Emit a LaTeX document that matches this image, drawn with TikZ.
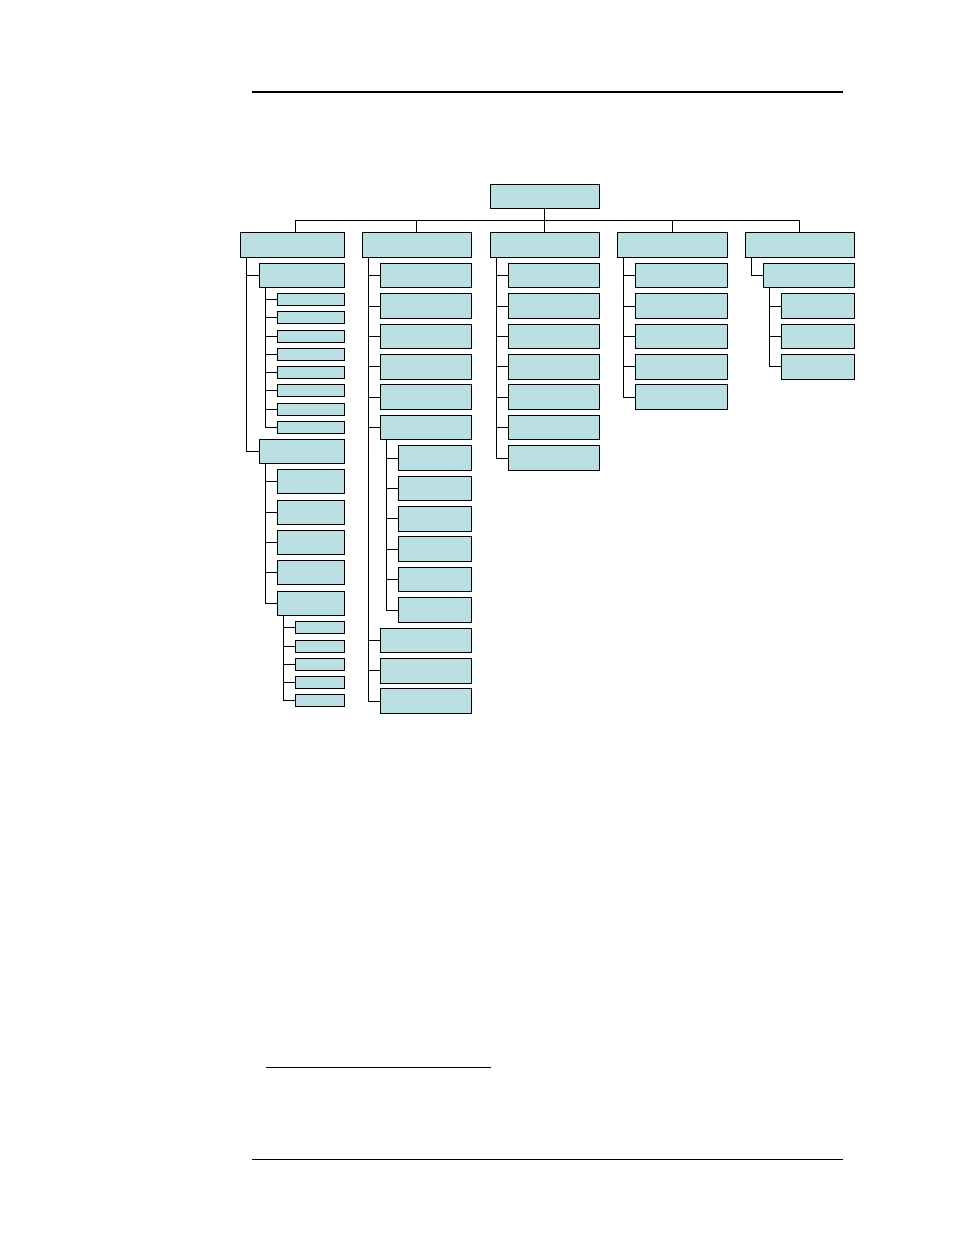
\documentclass[tikz,border=0pt]{standalone}
\definecolor{boxfill}{RGB}{187,224,227}
\tikzset{
  box/.style={draw=black,fill=boxfill,line width=0.9pt,inner sep=0pt,outer sep=0pt,rectangle},
  edge/.style={draw=black,line width=0.9pt},
  rulebar/.style={draw=black}
}
\newcommand\bx[5]{\node[box,anchor=north west,minimum width=#4pt,minimum height=#5pt] (#1) at (#2,#3) {};}
\newcommand\lnk[2]{\draw[edge] ([xshift=6pt]#1.south west) |- (#2.west);}
\begin{document}
\begin{tikzpicture}[x=1pt,y=-1pt]
\useasboundingbox (0,0) rectangle (954,1235);
% page rules
\draw[rulebar,line width=2pt] (252,92) -- (843,92);
\draw[rulebar,line width=0.8pt] (266,1067) -- (491,1067);
\draw[rulebar,line width=1pt] (252,1159) -- (843,1159);
% root and level 1
\bx{root}{490}{184.3}{109.3}{24}
\bx{c1}{240.3}{232.3}{104}{25}
\bx{c2}{362.3}{232.3}{109}{25}
\bx{c3}{490}{232.3}{109.3}{25}
\bx{c4}{617.3}{232.3}{110}{25}
\bx{c5}{745.3}{232.3}{109}{25}
\coordinate (bus) at (0,220.3);
\coordinate (c1top) at ([xshift=3pt]c1.north);
\draw[edge] (root.south) -- (root.south |- bus);
\draw[edge] (c1top) -- (c1top |- bus) -- (c5.north |- bus) -- (c5.north);
\foreach \c in {c2,c3,c4}{\draw[edge] (\c.north) -- (\c.north |- bus);}
% column 1
\bx{a}{259.3}{263.3}{85}{24}
\lnk{c1}{a}
\foreach \t [count=\i] in {293.3,311.3,330.3,348.3,366.3,384.3,403.3,421.3}{
  \bx{a\i}{277.3}{\t}{67}{12}
  \lnk{a}{a\i}
}
\bx{b}{259.3}{439.3}{85}{24}
\lnk{c1}{b}
\foreach \t [count=\i] in {469.7,500.1,530.5,560.9,591.3}{
  \bx{b\i}{277.3}{\t}{67}{24}
  \lnk{b}{b\i}
}
\foreach \t [count=\i] in {621.3,640.3,658.3,676.3,694.3}{
  \bx{e\i}{295.3}{\t}{49}{12}
  \lnk{b5}{e\i}
}
% column 2
\foreach \k [count=\i] in {0,1,2,3,4,5}{
  \bx{d\i}{380.3}{263.3+30.4*\k}{91}{24.5}
  \lnk{c2}{d\i}
}
\foreach \k [count=\i] in {6,7,8,9,10,11}{
  \bx{f\i}{398.3}{263.3+30.4*\k}{73}{24.5}
  \lnk{d6}{f\i}
}
\foreach \k [count=\i from 7] in {12,13,14}{
  \bx{d\i}{380.3}{263.3+30.4*\k}{91}{24.5}
  \lnk{c2}{d\i}
}
% column 3
\foreach \k [count=\i] in {0,1,2,3,4,5,6}{
  \bx{g\i}{508.3}{263.3+30.4*\k}{91}{24.5}
  \lnk{c3}{g\i}
}
% column 4
\foreach \k [count=\i] in {0,1,2,3,4}{
  \bx{h\i}{635.3}{263.3+30.4*\k}{92}{24.5}
  \lnk{c4}{h\i}
}
% column 5
\bx{i}{763.3}{263.3}{91}{24.5}
\lnk{c5}{i}
\foreach \k [count=\i] in {1,2,3}{
  \bx{i\i}{781.7}{263.3+30.4*\k}{72.6}{24.5}
  \lnk{i}{i\i}
}
\end{tikzpicture}
\end{document}
